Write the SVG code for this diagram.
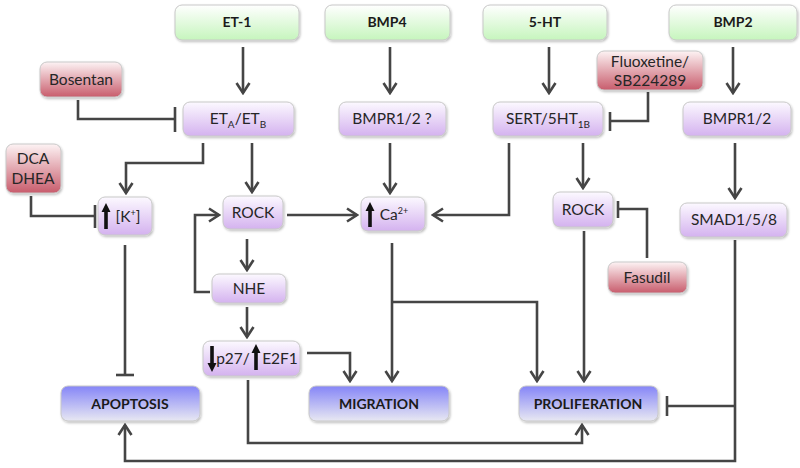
<svg xmlns="http://www.w3.org/2000/svg" width="800" height="468" viewBox="0 0 800 468">
<defs>
<linearGradient id="gGreen" x1="0" y1="0" x2="0" y2="1"><stop offset="0" stop-color="#ffffff"/><stop offset="1" stop-color="#c6f5bd"/></linearGradient>
<linearGradient id="gPurple" x1="0" y1="0" x2="0" y2="1"><stop offset="0" stop-color="#fcf9ff"/><stop offset="1" stop-color="#d4b2ef"/></linearGradient>
<linearGradient id="gRed" x1="0" y1="0" x2="0" y2="1"><stop offset="0" stop-color="#fdf3f4"/><stop offset="1" stop-color="#c85c6c"/></linearGradient>
<linearGradient id="gBlue" x1="0" y1="0" x2="0" y2="1"><stop offset="0" stop-color="#8585f7"/><stop offset="1" stop-color="#e8e8f2"/></linearGradient>
<filter id="sh" x="-10%" y="-10%" width="130%" height="140%"><feDropShadow dx="1" dy="1.5" stdDeviation="1.2" flood-color="#000" flood-opacity="0.25"/></filter>
<marker id="arr" viewBox="-13 -8 15 16" refX="0" refY="0" markerWidth="15" markerHeight="16" markerUnits="userSpaceOnUse" orient="auto">
<path d="M-10,-6.5 L0,0 L-10,6.5" fill="none" stroke="#454545" stroke-width="2.6"/>
</marker>
</defs>
<style>
.box{stroke:#c8c8c8;stroke-width:1;filter:url(#sh)}
.green{fill:url(#gGreen)}
.purple{fill:url(#gPurple)}
.red{fill:url(#gRed)}
.blue{fill:url(#gBlue)}
text{font-family:Lato,"Open Sans","Liberation Sans",sans-serif;font-size:15.5px;fill:#262626;text-anchor:middle}
.b{font-weight:bold;font-size:14px;fill:#1a1a1a}
.c{fill:none;stroke:#454545;stroke-width:2.6}
.a{marker-end:url(#arr)}
.bar{stroke:#454545;stroke-width:2.6}
.ua{fill:#111}
</style>

<g id="connectors">
<path class="c a" d="M243,47 V93"/>
<path class="c a" d="M390,47 V93"/>
<path class="c a" d="M549,47 V93"/>
<path class="c a" d="M733,47 V93"/>
<path class="c" d="M78,100 V119 H175"/><line class="bar" x1="175" y1="107" x2="175" y2="132"/>
<path class="c" d="M648,92 V121 H610"/><line class="bar" x1="610" y1="112" x2="610" y2="131"/>
<path class="c a" d="M203,143 V163 H126 V193"/>
<path class="c a" d="M252,143 V192"/>
<path class="c a" d="M390,143 V193"/>
<path class="c a" d="M509,143 V215 H433"/>
<path class="c a" d="M583,143 V188"/>
<path class="c a" d="M735,143 V198"/>
<path class="c" d="M31,196 V216 H95"/><line class="bar" x1="95" y1="205" x2="95" y2="228"/>
<path class="c a" d="M287,215 H357"/>
<path class="c a" d="M247,239 V270"/>
<path class="c a" d="M210,292 H195 V215 H219"/>
<path class="c" d="M125,245 V375"/><line class="bar" x1="116" y1="375" x2="134" y2="375"/>
<path class="c" d="M647,258 V209 H618"/><line class="bar" x1="618" y1="201" x2="618" y2="218"/>
<path class="c a" d="M392,243 V381"/>
<path class="c a" d="M392,302 H537 V381"/>
<path class="c a" d="M584,231 V381"/>
<path class="c a" d="M735,240 V461 H125 V425"/>
<path class="c" d="M735,406 H667"/><line class="bar" x1="667" y1="396" x2="667" y2="416"/>
<path class="c a" d="M247,307 V337"/>
<path class="c a" d="M307,353 H350 V381"/>
<path class="c a" d="M248,380 V443 H582 V425"/>
</g>

<g id="et1"><rect class="box green" x="175" y="5" width="124" height="35" rx="7"/><text class="b" x="237" y="27">ET-1</text></g>
<g id="bmp4"><rect class="box green" x="325" y="5" width="125" height="35" rx="7"/><text class="b" x="387" y="27">BMP4</text></g>
<g id="ht5"><rect class="box green" x="483" y="5" width="124" height="35" rx="7"/><text class="b" x="545" y="27">5-HT</text></g>
<g id="bmp2"><rect class="box green" x="669" y="5" width="128" height="35" rx="7"/><text class="b" x="733" y="27">BMP2</text></g>

<g id="bosentan"><rect class="box red" x="40" y="62" width="82" height="35" rx="7"/><text x="81" y="85">Bosentan</text></g>
<g id="fluoxetine"><rect class="box red" x="597" y="51" width="106" height="39" rx="7"/><text x="650" y="67">Fluoxetine/</text><text x="650" y="86">SB224289</text></g>
<g id="dca"><rect class="box red" x="6" y="144" width="55" height="49" rx="7"/><text x="33" y="164">DCA</text><text x="33" y="184">DHEA</text></g>
<g id="fasudil"><rect class="box red" x="608" y="262" width="79" height="31" rx="7"/><text x="647" y="283">Fasudil</text></g>

<g id="etab"><rect class="box purple" x="183" y="102" width="111" height="34" rx="7"/><text x="238" y="124">ET<tspan font-size="10" dy="4">A</tspan><tspan dy="-4">/ET</tspan><tspan font-size="10" dy="4">B</tspan></text></g>
<g id="bmpr4"><rect class="box purple" x="339" y="102" width="107" height="34" rx="7"/><text x="392" y="124">BMPR1/2 ?</text></g>
<g id="sert"><rect class="box purple" x="493" y="102" width="110" height="34" rx="7"/><text x="548" y="124">SERT/5HT<tspan font-size="10" dy="4">1B</tspan></text></g>
<g id="bmpr2"><rect class="box purple" x="683" y="102" width="108" height="34" rx="7"/><text x="737" y="124">BMPR1/2</text></g>

<g id="k"><rect class="box purple" x="98" y="197" width="54" height="38" rx="7"/><path class="ua" d="M106,203 L110.5,212 L107.8,212 L107.8,229 L104.2,229 L104.2,212 L101.5,212 Z"/><text x="128" y="222">[K<tspan font-size="9" dy="-6">+</tspan><tspan dy="6">]</tspan></text></g>
<g id="rock1"><rect class="box purple" x="223" y="196" width="60" height="33" rx="7"/><text x="253" y="218">ROCK</text></g>
<g id="nhe"><rect class="box purple" x="212" y="274" width="74" height="29" rx="7"/><text x="249" y="294">NHE</text></g>
<g id="ca"><rect class="box purple" x="361" y="197" width="64" height="34" rx="7"/><path class="ua" d="M370,202 L374.5,211 L371.8,211 L371.8,227 L368.2,227 L368.2,211 L365.5,211 Z"/><text x="394" y="220">Ca<tspan font-size="9" dy="-6">2+</tspan></text></g>
<g id="rock2"><rect class="box purple" x="553" y="192" width="60" height="35" rx="7"/><text x="583" y="215">ROCK</text></g>
<g id="smad"><rect class="box purple" x="680" y="203" width="107" height="34" rx="7"/><text x="734" y="225">SMAD1/5/8</text></g>
<g id="p27"><rect class="box purple" x="203" y="341" width="97" height="35" rx="7"/><path class="ua" d="M212,372 L216.5,363 L213.8,363 L213.8,346 L210.2,346 L210.2,363 L207.5,363 Z"/><text x="233" y="364">p27/</text><path class="ua" d="M256,344 L260.5,353 L257.8,353 L257.8,370 L254.2,370 L254.2,353 L251.5,353 Z"/><text x="280" y="364">E2F1</text></g>

<g id="apoptosis"><rect class="box blue" x="61" y="386" width="139" height="35" rx="7"/><text class="b" x="130" y="409">APOPTOSIS</text></g>
<g id="migration"><rect class="box blue" x="309" y="386" width="140" height="35" rx="7"/><text class="b" x="379" y="409">MIGRATION</text></g>
<g id="proliferation"><rect class="box blue" x="519" y="386" width="139" height="35" rx="7"/><text class="b" x="588" y="409">PROLIFERATION</text></g>
</svg>
